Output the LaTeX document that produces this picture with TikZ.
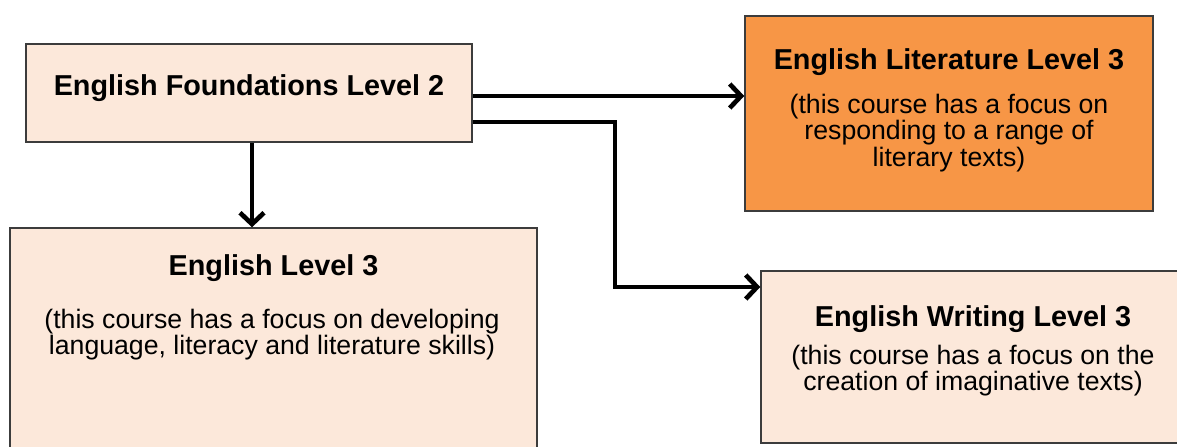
\documentclass[tikz,border=0pt]{standalone}
\usepackage{fontspec}
\setmainfont{Liberation Sans}
\usetikzlibrary{arrows.meta}

\definecolor{peach}{RGB}{252,232,218}
\definecolor{litorange}{RGB}{247,150,70}
\definecolor{edgegray}{RGB}{60,60,60}

\tikzset{every picture/.style={line width=0.75pt}}
\tikzset{
  course/.style={draw=edgegray, line width=1.1pt, fill=peach, inner sep=0pt},
  ctitle/.style={inner sep=0pt, font=\bfseries\fontsize{21.6}{24}\selectfont},
  cbody/.style={inner sep=0pt, align=center, font=\fontsize{20}{18.4}\selectfont},
  path arrow/.style={draw=black, line width=3.5pt, -{Straight Barb[length=8.5pt,width=18pt]}}
}

\begin{document}
\begin{tikzpicture}[x=0.75pt,y=0.75pt,yscale=-1,xscale=1]
\useasboundingbox (0,0) rectangle (1177,446);

% boxes
\node [course, minimum width=334.5pt, minimum height=73.5pt] (found) at (249,93) {};
\node [course, fill=litorange, minimum width=306pt, minimum height=146.25pt] (lit) at (949,113.5) {};
\node [course, minimum width=395.25pt, minimum height=181.5pt] (lvl) at (273.5,349) {};
\node [course, minimum width=321.75pt, minimum height=129pt] (wri) at (975.5,357) {};

% texts
\node [ctitle] (foundt) at (249,88) {English Foundations Level 2};
\node [ctitle] (litt) at (949,62) {English Literature Level 3};
\node [cbody] (litb) at (949,133) {(this course has a focus on\\responding to a range of\\literary texts)};
\node [ctitle] (lvlt) at (273.5,268) {English Level 3};
\node [cbody] (lvlb) at (272,335) {(this course has a focus on developing\\language, literacy and literature skills)};
\node [ctitle] (writ) at (973,319) {English Writing Level 3};
\node [cbody] (wrib) at (973,371) {(this course has a focus on the\\creation of imaginative texts)};

% connectors
\coordinate (bend) at (615,122);
\draw [path arrow] ([yshift=2.25pt]found.east) -- ([yshift=2.25pt]found.east -| lit.west);
\draw [path arrow] ([yshift=21.75pt]found.east) -- (bend) |- ([yshift=-52.5pt]wri.west);
\draw [path arrow] ([xshift=2.25pt]found.south) -- ([xshift=2.25pt]found.south |- lvl.north);

\end{tikzpicture}
\end{document}
